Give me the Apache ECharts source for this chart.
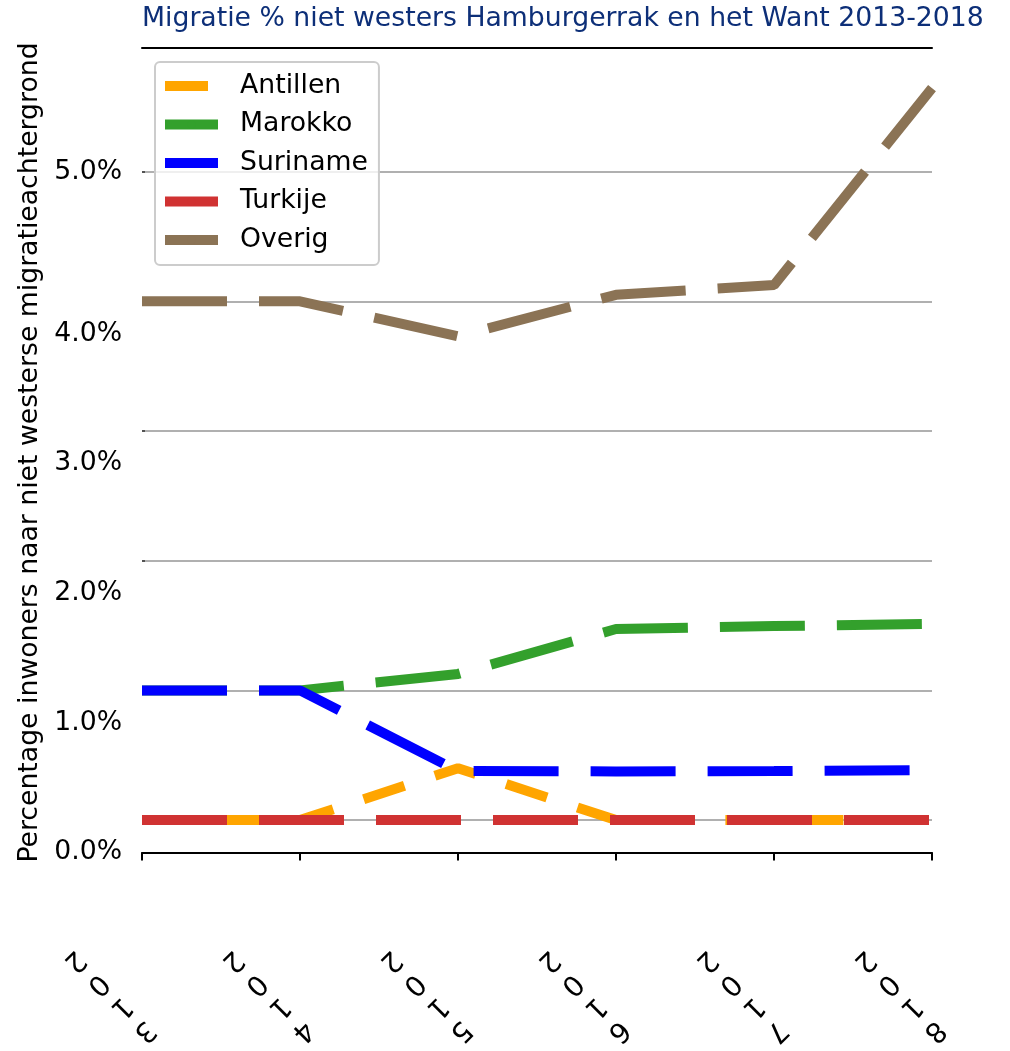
<!DOCTYPE html>
<html><head><meta charset="utf-8">
<script src="https://cdn.jsdelivr.net/npm/echarts@6/dist/echarts.min.js"></script>
<style>html,body{margin:0;padding:0;background:#fff;overflow:hidden}#c{width:1010px;height:1051px}</style>
</head><body><div id="c"></div>
<script>
// ---- data ----
const years = ['2013', '2014', '2015', '2016', '2017', '2018'];
const seriesNames = ['Antillen', 'Marokko', 'Suriname', 'Turkije', 'Overig'];
const antillen = [0.25, 0.25, 0.65, 0.25, 0.25, 0.25];
const marokko  = [1.25, 1.25, 1.377, 1.723, 1.746, 1.762];
const suriname = [1.25, 1.25, 0.628, 0.625, 0.628, 0.636];
const turkije  = [0.25, 0.25, 0.25, 0.25, 0.25, 0.25];
const overig   = [4.25, 4.25, 3.98, 4.30, 4.375, 5.894];
const yTickLabels = ['0.0%', '1.0%', '2.0%', '3.0%', '4.0%', '5.0%'];
const yLabelValues = [0, 1, 2, 3, 4, 5.25];
const yGridValues = [0.25, 1.25, 2.25, 3.25, 4.25, 5.25];
const yMin = -0.0347, yMax = 6.2028;
const titleText = 'Migratie % niet westers Hamburgerrak en het Want 2013-2018';
const yName = 'Percentage inwoners naar niet westerse migratieachtergrond';

const FONT = 'DejaVu Sans';
const FS = 26.7;
const colors = ['#ffa500', '#33a02c', '#0000ff', '#d03232', '#8b7355'];
const dashes = [[43, 32], [85, 32], [85, 32], [85, 32], [85, 32]];
const values = [antillen, marokko, suriname, turkije, overig];

const chart = echarts.init(document.getElementById('c'), null, {renderer: 'canvas', width: 1010, height: 1051});
const option = {
  animation: false,
  backgroundColor: '#ffffff',
  title: {
    text: titleText, left: 142, top: 6, padding: 0,
    textStyle: {fontFamily: FONT, fontSize: FS, fontWeight: 'normal', color: '#0d2f78'}
  },
  legend: {
    orient: 'vertical', left: 155, top: 62,
    itemWidth: 53, itemHeight: 10, itemGap: 8.5,
    padding: [9, 11, 10, 5],
    backgroundColor: 'rgba(255,255,255,0.8)',
    borderColor: '#cccccc', borderWidth: 2, borderRadius: 5,
    lineStyle: {width: 10},
    textStyle: {fontFamily: FONT, fontSize: FS, color: '#000', lineHeight: 30, padding: [0, 0, 0, 17]},
    data: seriesNames
  },
  grid: {left: 142, top: 48, width: 790, height: 809, outerBoundsMode: 'none', containLabel: false},
  xAxis: [{
    type: 'category', data: years, boundaryGap: false,
    axisLine: {lineStyle: {color: '#000', width: 2}},
    axisTick: {show: true, length: 8, lineStyle: {color: '#000', width: 2}},
    axisLabel: {
      interval: 0, rotate: -135, margin: 106, align: 'center', verticalAlign: 'middle',
      padding: [0, 0, 0, 93],
      fontFamily: FONT, fontSize: 28, lineHeight: 33, color: '#000',
      formatter: v => v.split('').reverse().join('\n')
    },
    splitLine: {show: false}
  }, {
    type: 'category', data: years, position: 'top', boundaryGap: false,
    axisLine: {lineStyle: {color: '#000', width: 2}},
    axisTick: {show: false}, axisLabel: {show: false}, splitLine: {show: false}
  }],
  yAxis: {
    type: 'value', min: yMin, max: yMax,
    axisLine: {show: false},
    axisTick: {show: true, inside: true, length: 3, customValues: yGridValues, lineStyle: {color: '#333', width: 1.5}},
    splitLine: {show: true, lineStyle: {color: '#b0b0b0', width: 2}},
    axisLabel: {
      customValues: yLabelValues, margin: 20,
      fontFamily: FONT, fontSize: FS, color: '#000',
      formatter: v => { const i = yLabelValues.findIndex(x => Math.abs(x - v) < 1e-6); return i >= 0 ? yTickLabels[i] : ''; }
    },
    name: yName, nameLocation: 'middle', nameGap: 94, nameRotate: 90,
    nameTextStyle: {fontFamily: FONT, fontSize: FS, color: '#000'}
  },
  series: seriesNames.map((n, i) => ({
    name: n, type: 'line', data: values[i], symbol: 'none',
    color: colors[i],
    lineStyle: {width: 10, type: dashes[i], color: colors[i]}
  }))
};
chart.setOption(option);
</script>
</body></html>
